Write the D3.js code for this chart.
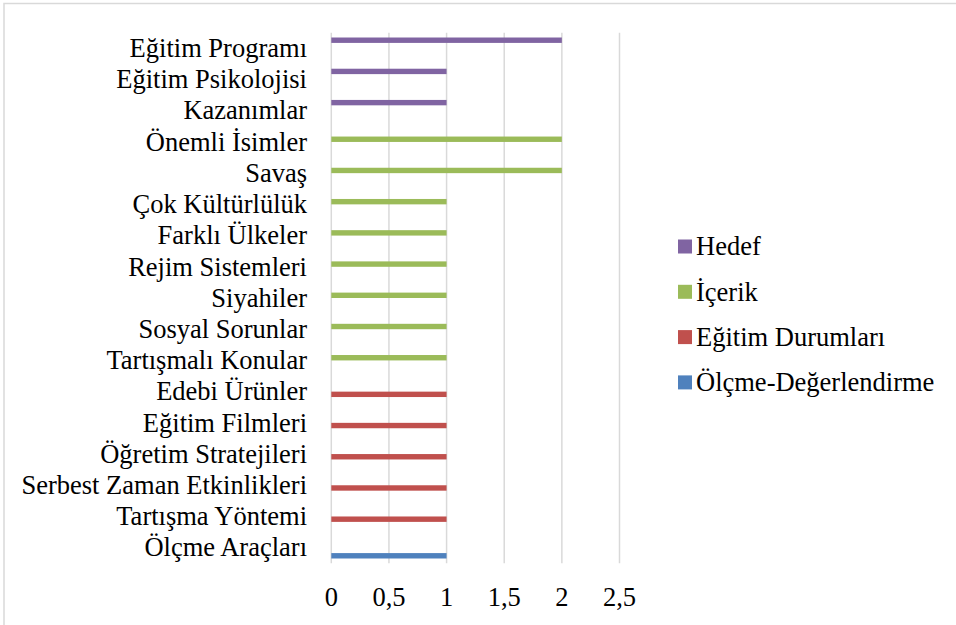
<!DOCTYPE html>
<html><head><meta charset="utf-8">
<script src="https://cdn.jsdelivr.net/npm/d3@7"></script>
<style>html,body{margin:0;padding:0;background:#fff;overflow:hidden}</style>
</head><body>
<svg id="chart" width="956" height="625"></svg>
<script>
const categories = ["Eğitim Programı","Eğitim Psikolojisi","Kazanımlar","Önemli İsimler","Savaş","Çok Kültürlülük","Farklı Ülkeler","Rejim Sistemleri","Siyahiler","Sosyal Sorunlar","Tartışmalı Konular","Edebi Ürünler","Eğitim Filmleri","Öğretim Stratejileri","Serbest Zaman Etkinlikleri","Tartışma Yöntemi","Ölçme Araçları"];
const seriesNames = ["Hedef","İçerik","Eğitim Durumları","Ölçme-Değerlendirme"];
const hedef      = [2,1,1,0,0,0,0,0,0,0,0,0,0,0,0,0,0];
const icerik     = [0,0,0,2,2,1,1,1,1,1,1,0,0,0,0,0,0];
const durumlar   = [0,0,0,0,0,0,0,0,0,0,0,1,1,1,1,1,0];
const olcme      = [0,0,0,0,0,0,0,0,0,0,0,0,0,0,0,0,1];
const xTicks = [0,0.5,1,1.5,2,2.5];
const tickLabels = ["0","0,5","1","1,5","2","2,5"];
const colors = ["#8064A2","#9BBB59","#C0504D","#4F81BD"];

const seriesValues = [hedef, icerik, durumlar, olcme];
const svg = d3.select("#chart");
const font = '"Liberation Serif", "Times New Roman", serif';
const fs = "26.5px";

// frame (partially visible)
svg.append("rect").attr("x",4).attr("y",3.5).attr("width",1000).attr("height",700)
  .attr("fill","none").attr("stroke","#d9d9d9").attr("stroke-width",1.5);

const plotTop = 32.7, plotBottom = 563.3;
const x = d3.scaleLinear().domain([0,2.5]).range([331.3,619.5]);
const y = d3.scaleBand().domain(categories).range([plotTop,plotBottom]).paddingInner(0).paddingOuter(0);
const inner = d3.scaleBand().domain(seriesNames).range([0,y.bandwidth()]).paddingInner(0).paddingOuter(0.89);

// gridlines
svg.append("g").selectAll("line").data(xTicks).join("line")
  .attr("x1",d=>x(d)).attr("x2",d=>x(d)).attr("y1",plotTop).attr("y2",plotBottom)
  .attr("stroke","#d9d9d9").attr("stroke-width",1.5);

// bars
seriesNames.forEach((s,si)=>{
  svg.append("g").selectAll("rect").data(categories.map((c,i)=>({c,v:seriesValues[si][i]})).filter(d=>d.v>0))
    .join("rect")
    .attr("x",x(0)).attr("width",d=>x(d.v)-x(0))
    .attr("y",d=>y(d.c)+inner(s)).attr("height",inner.bandwidth())
    .attr("fill",colors[si]);
});

// category labels
svg.append("g").selectAll("text").data(categories).join("text")
  .attr("x",307).attr("y",d=>y(d)+y.bandwidth()/2).attr("dy","0.33em")
  .attr("text-anchor","end").style("font-family",font).style("font-size",fs).attr("fill","#000")
  .text(d=>d);

// x tick labels
svg.append("g").selectAll("text").data(xTicks).join("text")
  .attr("x",d=>x(d)).attr("y",606).attr("text-anchor","middle")
  .style("font-family",font).style("font-size",fs).attr("fill","#000")
  .text((d,i)=>tickLabels[i]);

// legend
const lg = svg.append("g");
seriesNames.forEach((s,i)=>{
  const cy = 246.5 + i*45.3;
  lg.append("rect").attr("x",678).attr("y",cy-7).attr("width",14).attr("height",14).attr("fill",colors[i]);
  lg.append("text").attr("x",696).attr("y",cy).attr("dy","0.33em")
    .style("font-family",font).style("font-size",fs).attr("fill","#000").text(s);
});
</script>
</body></html>
